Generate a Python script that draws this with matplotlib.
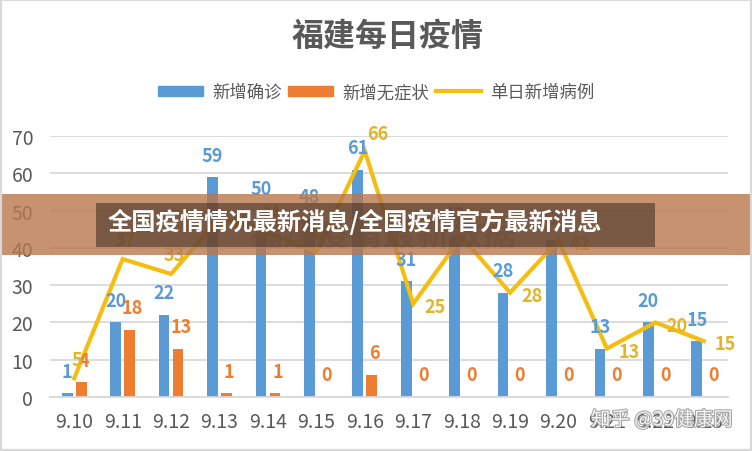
import numpy as np
import matplotlib.pyplot as plt
from matplotlib.patches import Rectangle, Patch
from matplotlib.lines import Line2D
import matplotlib.patheffects as pe

plt.rcParams['font.family'] = ['Noto Sans CJK SC', 'DejaVu Sans']

# data
dates = ['9.10', '9.11', '9.12', '9.13', '9.14', '9.15', '9.16',
         '9.17', '9.18', '9.19', '9.20', '9.21', '9.22', '9.23']
confirmed = [1, 20, 22, 59, 50, 48, 61, 31, 43, 28, 42, 13, 20, 15]
asymptomatic = [4, 18, 13, 1, 1, 0, 6, 0, 0, 0, 0, 0, 0, 0]
daily_total = [5, 37, 33, 48, 44, 39, 66, 25, 43, 28, 42, 13, 20, 15]
# where each line label sits
line_label_pos = ['up', 'up', 'up', 'right', 'up', 'up', 'upright',
                  'right', 'up', 'right', 'right', 'right', 'right', 'right']

BLUE = '#5B9BD5'
ORANGE = '#ED7D31'
GOLD = '#F5BD10'
GOLD_TXT = '#E2B528'
GRAY = '#595959'

fig = plt.figure(figsize=(7.52, 4.52), dpi=100)
ax = fig.add_axes([50 / 752, 54 / 452, 678 / 752, 261 / 452])

x = np.arange(len(dates))
w = 0.22
off = 0.145
ax.bar(x - off, confirmed, w, color=BLUE, zorder=2)
ax.bar(x + off, asymptomatic, w, color=ORANGE, zorder=2)
ax.plot(x, daily_total, color=GOLD, lw=3, zorder=3, solid_joinstyle='miter')

lab = dict(fontsize=13, fontweight='bold', textcoords='offset points')
for i in range(len(x)):
    ax.annotate(str(confirmed[i]), (x[i] - off, confirmed[i]), xytext=(0, 9),
                ha='center', va='bottom', color=BLUE, zorder=4, **lab)
    ax.annotate(str(asymptomatic[i]), (x[i] + off, asymptomatic[i]), xytext=(2, 9),
                ha='center', va='bottom', color=ORANGE, zorder=4, **lab)
    p = line_label_pos[i]
    if p == 'up':
        xy, ha, va = (2, 7), 'center', 'bottom'
    elif p == 'upright':
        xy, ha, va = (2, 6), 'left', 'bottom'
    else:
        xy, ha, va = (8, -2), 'left', 'center'
    ax.annotate(str(daily_total[i]), (x[i], daily_total[i]), xytext=xy,
                ha=ha, va=va, color=GOLD_TXT, zorder=4, **lab)

ax.set_xlim(-0.5, len(x) - 0.5)
ax.set_ylim(0, 70)
ax.set_yticks(range(0, 71, 10))
ax.set_xticks(x)
ax.set_xticklabels(dates)
ax.grid(axis='y', color='#D9D9D9', lw=1.3, zorder=0)
ax.set_axisbelow(True)
for s in ['top', 'right', 'left']:
    ax.spines[s].set_visible(False)
ax.spines['bottom'].set_color('#D9D9D9')
ax.spines['bottom'].set_linewidth(1.3)
ax.tick_params(length=0, labelsize=14, colors=GRAY, pad=10)
ax.tick_params(axis='y', pad=12)

fig.text(0.516, 0.918, '福建每日疫情', ha='center', va='center',
         fontsize=23, fontweight='bold', color=GRAY)

handles = [Patch(color=BLUE), Patch(color=ORANGE),
           Line2D([], [], color=GOLD, lw=3)]
fig.legend(handles, ['新增确诊', '新增无症状', '单日新增病例'],
           loc='center', bbox_to_anchor=(0.5, 0.794), ncol=3, frameon=False,
           fontsize=12.5, labelcolor=GRAY, handlelength=2.6, handleheight=0.55,
           handletextpad=0.5, columnspacing=0.4)

# overlay banner and watermarks
fig.text(0.51, 1 - 236 / 452, '福建疫情最新数据', ha='center', va='center',
         fontsize=24, fontweight='bold', color='#9a9a9a', alpha=0.7, zorder=5)
fig.add_artist(Rectangle((0, 1 - 256 / 452), 1, 61 / 452, transform=fig.transFigure,
                         color='#b8774c', alpha=0.8, lw=0, zorder=6))
fig.add_artist(Rectangle((96 / 752, 1 - 248 / 452), 559 / 752, 44 / 452,
                         transform=fig.transFigure, color='#3a2a20', alpha=0.55,
                         lw=0, zorder=7))
fig.text(108 / 752, 1 - 222 / 452, '全国疫情情况最新消息/全国疫情官方最新消息',
         ha='left', va='center', fontsize=17.5, fontweight='bold', color='white',
         zorder=8)
fig.text(662 / 752, 1 - 421 / 452, '知乎 @39健康网', ha='center', va='center',
         fontsize=14, color='white', alpha=0.9, zorder=8,
         path_effects=[pe.withStroke(linewidth=1.5, foreground='#9a9a9a')])

fig.add_artist(Rectangle((0, 0), 1, 1, transform=fig.transFigure, fill=False,
                         edgecolor='#D9D9D9', lw=3, zorder=9))

fig.savefig('out.png', dpi=100)
